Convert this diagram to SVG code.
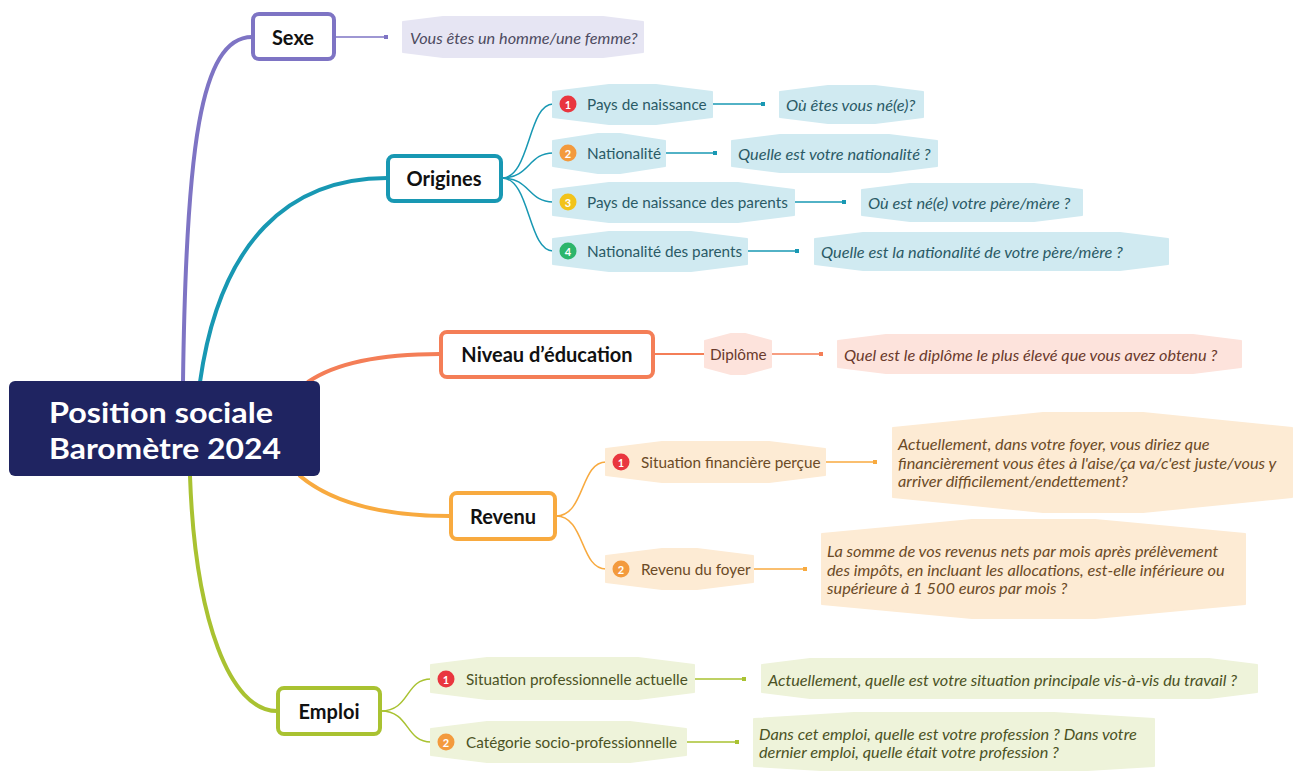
<svg xmlns="http://www.w3.org/2000/svg" width="1293" height="771" viewBox="0 0 1293 771">
<style>
text{font-family:Lato,"Open Sans","Liberation Sans",sans-serif}
.root{fill:#1f2461}
.rt{fill:#fff;font-weight:700;font-size:29px;text-anchor:middle;dominant-baseline:central}
.main{fill:#fff;stroke-width:4}
.mt{fill:#111;font-weight:700;font-size:20px;text-anchor:middle;dominant-baseline:central}
.st{font-size:15.3px;dominant-baseline:central}
.lt{font-size:16.3px;font-style:italic;dominant-baseline:central}
.bn{fill:#fff;font-weight:700;font-size:11px;text-anchor:middle;dominant-baseline:central}
.br{fill:none;stroke-width:4;stroke-linecap:round}
.th{fill:none;stroke-width:1.5}
.hx{stroke-width:2;stroke-linejoin:round}
.pu{stroke:#7e74c4}.te{stroke:#1898b3}.co{stroke:#f47e57}.or{stroke:#f8aa3f}.li{stroke:#a9c231}
.fpu{fill:#e6e5f3;stroke:#e6e5f3}.fte{fill:#d0eaf1;stroke:#d0eaf1}.fco{fill:#fde3dc;stroke:#fde3dc}.for{fill:#fdebd4;stroke:#fdebd4}.fli{fill:#eef3da;stroke:#eef3da}
.tpu{fill:#4d4b60}.tte{fill:#2a5a66}.tco{fill:#6a3a2c}.tor{fill:#6b4a26}.tli{fill:#4b5224}
</style>
<g id="connectors">
<path class="br pu" d="M183,382 C186,150 200,37 252,37"/>
<path class="br te" d="M200,382 C220,240 290,178 387,178"/>
<path class="br co" d="M308,382 C340,360 390,354 440,354"/>
<path class="br or" d="M300,476 C335,505 390,516 450,516"/>
<path class="br li" d="M190,476 C195,620 230,711 277,711"/>
<g class="th te">
<path d="M502,178 C530,178 528,104 553,104"/>
<path d="M502,178 C530,178 528,153 553,153"/>
<path d="M502,178 C530,178 528,202 553,202"/>
<path d="M502,178 C530,178 528,251 553,251"/>
</g>
<g class="th or">
<path d="M556,516 C585,516 580,462 606,462"/>
<path d="M556,516 C585,516 580,569 606,569"/>
</g>
<g class="th li">
<path d="M381,711 C410,711 405,679 431,679"/>
<path d="M381,711 C410,711 405,742 431,742"/>
</g>
<path class="th pu" d="M335,37 H386"/><rect x="384" y="35" width="4" height="4" fill="#7e74c4"/>
<path class="th te" d="M712,104 H763"/><rect x="761" y="102" width="4" height="4" fill="#1898b3"/>
<path class="th te" d="M665,153 H715"/><rect x="713" y="151" width="4" height="4" fill="#1898b3"/>
<path class="th te" d="M794,202 H844"/><rect x="842" y="200" width="4" height="4" fill="#1898b3"/>
<path class="th te" d="M747,251 H797"/><rect x="795" y="249" width="4" height="4" fill="#1898b3"/>
<path class="co" fill="none" stroke-width="2" d="M654,354 H705"/>
<path class="th co" d="M771,354 H821"/><rect x="819" y="352" width="4" height="4" fill="#f47e57"/>
<path class="th or" d="M825,462 H875"/><rect x="873" y="460" width="4" height="4" fill="#f8aa3f"/>
<path class="th or" d="M753,569 H805"/><rect x="803" y="567" width="4" height="4" fill="#f8aa3f"/>
<path class="th li" d="M694,679 H744"/><rect x="742" y="677" width="4" height="4" fill="#a9c231"/>
<path class="th li" d="M686,742 H737"/><rect x="735" y="740" width="4" height="4" fill="#a9c231"/>
</g>
<g id="root">
<rect class="root" x="9" y="381" width="311" height="95" rx="6"/>
<text class="rt" x="161" y="411" textLength="224" lengthAdjust="spacingAndGlyphs">Position sociale</text>
<text class="rt" x="165" y="447" textLength="232" lengthAdjust="spacingAndGlyphs">Baromètre 2024</text>
</g>
<g id="sexe">
<rect class="main pu" x="253" y="14" width="81" height="45" rx="6"/>
<text class="mt" x="293" y="37">Sexe</text>
</g>
<g id="sexe-q">
<polygon class="hx fpu" points="403,22 443,17 603,17 643,22 643,52 603,57 443,57 403,52"/>
<text class="lt tpu" x="410" y="37">Vous êtes un homme/une femme?</text>
</g>
<g id="origines">
<rect class="main te" x="388" y="156" width="113" height="45" rx="6"/>
<text class="mt" x="444" y="178">Origines</text>
</g>
<g id="pays-naissance">
<polygon class="hx fte" points="553,92 609,85 656,85 712,92 712,117 656,124 609,124 553,117"/>
<circle cx="568" cy="104" r="8.5" fill="#e9363f"/><text class="bn" x="568" y="104">1</text>
<text class="st tte" x="587" y="104">Pays de naissance</text>
</g>
<g id="pays-naissance-q">
<polygon class="hx fte" points="780,92 828,86 875,86 923,92 923,117 875,123 828,123 780,117"/>
<text class="lt tte" x="786" y="104">Où êtes vous né(e)?</text>
</g>
<g id="nationalite">
<polygon class="hx fte" points="553,141 598,134 620,134 665,141 665,166 620,173 598,173 553,166"/>
<circle cx="568" cy="153" r="8.5" fill="#f39a3d"/><text class="bn" x="568" y="153">2</text>
<text class="st tte" x="587" y="153">Nationalité</text>
</g>
<g id="nationalite-q">
<polygon class="hx fte" points="732,141 780,135 889,135 937,141 937,166 889,172 780,172 732,166"/>
<text class="lt tte" x="738" y="153">Quelle est votre nationalité ?</text>
</g>
<g id="pays-parents">
<polygon class="hx fte" points="553,190 609,183 738,183 794,190 794,215 738,222 609,222 553,215"/>
<circle cx="568" cy="202" r="8.5" fill="#f2c31a"/><text class="bn" x="568" y="202">3</text>
<text class="st tte" x="587" y="202">Pays de naissance des parents</text>
</g>
<g id="pays-parents-q">
<polygon class="hx fte" points="862,190 910,184 1034,184 1082,190 1082,215 1034,221 910,221 862,215"/>
<text class="lt tte" x="868" y="202">Où est né(e) votre père/mère ?</text>
</g>
<g id="nationalite-parents">
<polygon class="hx fte" points="553,239 609,232 691,232 747,239 747,264 691,271 609,271 553,264"/>
<circle cx="568" cy="251" r="8.5" fill="#2db56b"/><text class="bn" x="568" y="251">4</text>
<text class="st tte" x="587" y="251">Nationalité des parents</text>
</g>
<g id="nationalite-parents-q">
<polygon class="hx fte" points="815,239 863,233 1120,233 1168,239 1168,264 1120,270 863,270 815,264"/>
<text class="lt tte" x="821" y="251">Quelle est la nationalité de votre père/mère ?</text>
</g>
<g id="niveau">
<rect class="main co" x="441" y="332" width="212" height="45" rx="6"/>
<text class="mt" x="547" y="354">Niveau d’éducation</text>
</g>
<g id="diplome">
<polygon class="hx fco" points="705,341 731,334 745,334 771,341 771,367 745,374 731,374 705,367"/>
<text class="st tco" x="710" y="354">Diplôme</text>
</g>
<g id="diplome-q">
<polygon class="hx fco" points="838,341 886,335 1193,335 1241,341 1241,367 1193,373 886,373 838,367"/>
<text class="lt tco" x="844" y="354">Quel est le diplôme le plus élevé que vous avez obtenu ?</text>
</g>
<g id="revenu">
<rect class="main or" x="451" y="493" width="104" height="46" rx="6"/>
<text class="mt" x="503" y="516">Revenu</text>
</g>
<g id="situation-fin">
<polygon class="hx for" points="606,449 662,442 769,442 825,449 825,475 769,482 662,482 606,475"/>
<circle cx="621" cy="462" r="8.5" fill="#e9363f"/><text class="bn" x="621" y="462">1</text>
<text class="st tor" x="641" y="462">Situation financière perçue</text>
</g>
<g id="situation-fin-q">
<polygon class="hx for" points="893,428 1043,413 1143,413 1292,428 1292,497 1143,512 1043,512 893,497"/>
<text class="lt tor" x="898" y="443">Actuellement, dans votre foyer, vous diriez que</text>
<text class="lt tor" x="898" y="462">financièrement vous êtes à l'aise/ça va/c'est juste/vous y</text>
<text class="lt tor" x="898" y="480">arriver difficilement/endettement?</text>
</g>
<g id="revenu-foyer">
<polygon class="hx for" points="606,556 662,549 697,549 753,556 753,582 697,589 662,589 606,582"/>
<circle cx="621" cy="569" r="8.5" fill="#f39a3d"/><text class="bn" x="621" y="569">2</text>
<text class="st tor" x="641" y="569">Revenu du foyer</text>
</g>
<g id="revenu-foyer-q">
<polygon class="hx for" points="822,534 972,520 1095,520 1245,534 1245,604 1095,618 972,618 822,604"/>
<text class="lt tor" x="827" y="550">La somme de vos revenus nets par mois après prélèvement</text>
<text class="lt tor" x="827" y="569">des impôts, en incluant les allocations, est-elle inférieure ou</text>
<text class="lt tor" x="827" y="587">supérieure à 1 500 euros par mois  ?</text>
</g>
<g id="emploi">
<rect class="main li" x="278" y="688" width="102" height="46" rx="6"/>
<text class="mt" x="329" y="711">Emploi</text>
</g>
<g id="situation-pro">
<polygon class="hx fli" points="431,665 487,658 638,658 694,665 694,692 638,699 487,699 431,692"/>
<circle cx="446" cy="679" r="8.5" fill="#e9363f"/><text class="bn" x="446" y="679">1</text>
<text class="st tli" x="466" y="679">Situation professionnelle actuelle</text>
</g>
<g id="situation-pro-q">
<polygon class="hx fli" points="762,665 810,659 1209,659 1257,665 1257,692 1209,698 810,698 762,692"/>
<text class="lt tli" x="768" y="679">Actuellement, quelle est votre situation principale vis-à-vis du travail ?</text>
</g>
<g id="categorie">
<polygon class="hx fli" points="431,729 487,722 630,722 686,729 686,755 630,762 487,762 431,755"/>
<circle cx="446" cy="742" r="8.5" fill="#f39a3d"/><text class="bn" x="446" y="742">2</text>
<text class="st tli" x="466" y="742">Catégorie socio-professionnelle</text>
</g>
<g id="categorie-q">
<polygon class="hx fli" points="754,719 854,713 1054,713 1154,719 1154,766 1054,772 854,772 754,766"/>
<text class="lt tli" x="759" y="733">Dans cet emploi, quelle est votre profession ? Dans votre</text>
<text class="lt tli" x="759" y="751">dernier emploi, quelle était votre profession ?</text>
</g>
</svg>
